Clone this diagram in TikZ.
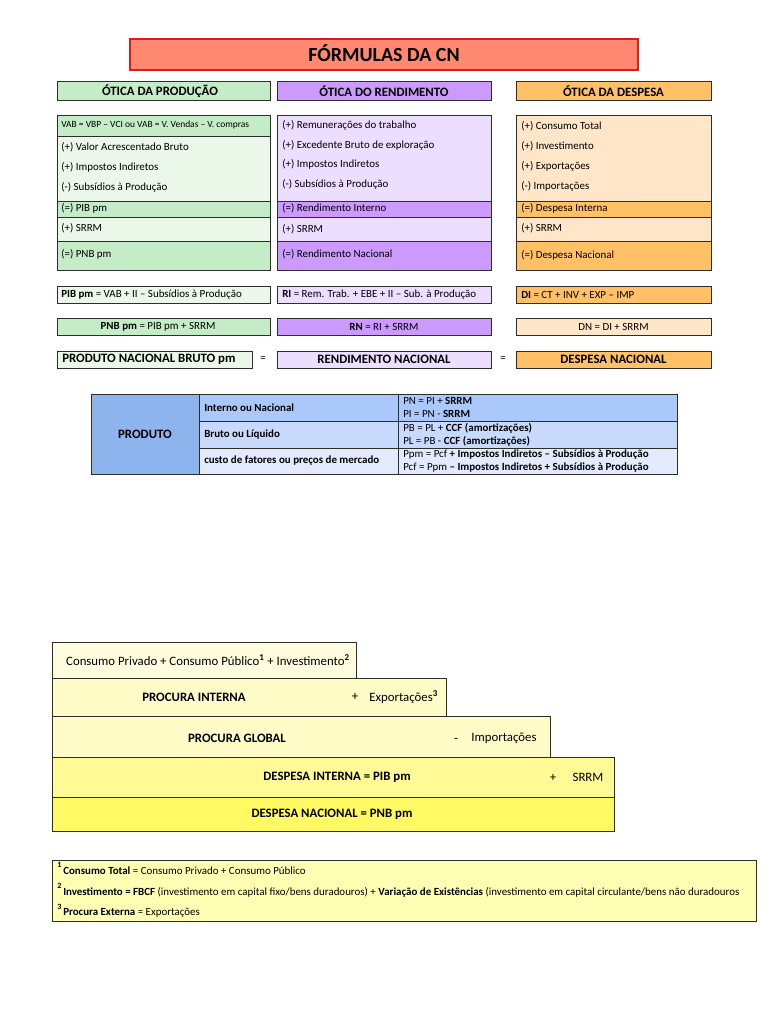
\documentclass[tikz,border=0pt]{standalone}
\usepackage{fontspec}
\setmainfont{Carlito}
\usepackage{xcolor}
\usetikzlibrary{positioning}

\definecolor{titleFill}{RGB}{255,137,112}
\definecolor{titleEdge}{RGB}{214,30,30}
\definecolor{prodDark}{RGB}{196,236,199}
\definecolor{prodLight}{RGB}{234,247,233}
\definecolor{rendDark}{RGB}{204,153,255}
\definecolor{rendLight}{RGB}{236,222,255}
\definecolor{despDark}{RGB}{255,192,102}
\definecolor{despLight}{RGB}{255,230,200}
\definecolor{tabHead}{RGB}{142,180,237}
\definecolor{tabOne}{RGB}{170,200,250}
\definecolor{tabTwo}{RGB}{200,218,252}
\definecolor{tabThree}{RGB}{226,234,252}
\definecolor{pyrPale}{RGB}{255,253,222}
\definecolor{pyrCream}{RGB}{255,252,200}
\definecolor{pyrYellow}{RGB}{255,250,150}
\definecolor{pyrStrong}{RGB}{255,250,100}
\definecolor{noteFill}{RGB}{255,255,180}

\begin{document}
\begin{tikzpicture}[x=0.75pt,y=0.75pt,yscale=-1,xscale=1,
  cell/.style={draw={rgb,255:red,45;green,45;blue,45},line width=0.75pt},
  txt/.style={anchor=west,inner sep=0pt,font=\fontsize{8.2}{9.5}\selectfont},
  ctxt/.style={inner sep=0pt,font=\fontsize{8.2}{9.5}\selectfont},
  vabtxt/.style={anchor=west,inner sep=0pt,font=\fontsize{7.1}{8}\selectfont},
  head/.style={inner sep=0pt,font=\fontsize{9.6}{11}\selectfont\bfseries},
  tabtxt/.style={anchor=west,inner sep=0pt,font=\fontsize{8.2}{9.7}\selectfont,align=left},
  pyr/.style={inner sep=0pt,font=\fontsize{9.6}{11}\selectfont},
  note/.style={anchor=west,inner sep=0pt,font=\fontsize{8.2}{9.5}\selectfont}
]
%uncomment if require: \path (0,1024); %page of 768 by 1024
\fill[white] (0,0) rectangle (768,1024);
\useasboundingbox (0,0) rectangle (768,1024);

%Shape: Rectangle [title]
\draw [draw=titleEdge,fill=titleFill,line width=1.2pt] (130,39) rectangle (638,70);
% Text Node
\node [inner sep=0pt,font=\fontsize{15}{17}\selectfont\bfseries] (titulo) at (384,53) {FÓRMULAS DA CN};

%Shape: Rectangle [headers]
\draw [cell,fill=prodDark] (57,82) rectangle (270,100);
\draw [cell,fill=rendDark] (277,82) rectangle (491,100);
\draw [cell,fill=despDark] (516,82) rectangle (711,100);
% Text Node
\node [head] (hprod) at (160,91) {ÓTICA DA PRODUÇÃO};
\node [head] (hrend) at (384,91) {ÓTICA DO RENDIMENTO};
\node [head] (hdesp) at (613.5,91) {ÓTICA DA DESPESA};

%Shape: Rectangle [producao]
\draw [cell,fill=prodDark] (57,115) rectangle (270,136);
\draw [cell,fill=prodLight] (57,136) rectangle (270,201);
\draw [cell,fill=prodDark] (57,201) rectangle (270,217);
\draw [cell,fill=prodLight] (57,217) rectangle (270,241);
\draw [cell,fill=prodDark] (57,241) rectangle (270,270);
% Text Node
\node [vabtxt] (vab) at (61,125) {VAB = VBP – VCI ou VAB = V. Vendas – V. compras};
\node [txt] (pvab) at (61,147) {(+) Valor Acrescentado Bruto};
\node [txt] (pii) at (61,167) {(+) Impostos Indiretos};
\node [txt] (psub) at (61,187) {(-) Subsídios à Produção};
\node [txt] (ppib) at (61,208) {(=) PIB pm};
\node [txt] (psrrm) at (61,228) {(+) SRRM};
\node [txt] (ppnb) at (61,254) {(=) PNB pm};

%Shape: Rectangle [rendimento]
\draw [cell,fill=rendLight] (277,115) rectangle (491,201);
\draw [cell,fill=rendDark] (277,201) rectangle (491,217);
\draw [cell,fill=rendLight] (277,217) rectangle (491,241);
\draw [cell,fill=rendDark] (277,241) rectangle (491,270);
% Text Node
\node [txt] (rrem) at (282,125) {(+) Remunerações do trabalho};
\node [txt] (rebe) at (282,145) {(+) Excedente Bruto de exploração};
\node [txt] (rii) at (282,164) {(+) Impostos Indiretos};
\node [txt] (rsub) at (282,184) {(-) Subsídios à Produção};
\node [txt] (rint) at (282,208) {(=) Rendimento Interno};
\node [txt] (rsrrm) at (282,229) {(+) SRRM};
\node [txt] (rnac) at (282,254) {(=) Rendimento Nacional};

%Shape: Rectangle [despesa]
\draw [cell,fill=despLight] (516,115) rectangle (711,201);
\draw [cell,fill=despDark] (516,201) rectangle (711,217);
\draw [cell,fill=despLight] (516,217) rectangle (711,241);
\draw [cell,fill=despDark] (516,241) rectangle (711,270);
% Text Node
\node [txt] (dct) at (521,126) {(+) Consumo Total};
\node [txt] (dinv) at (521,146) {(+) Investimento};
\node [txt] (dexp) at (521,166) {(+) Exportações};
\node [txt] (dimp) at (521,186) {(-) Importações};
\node [txt] (dint) at (521,208) {(=) Despesa Interna};
\node [txt] (dsrrm) at (521,228) {(+) SRRM};
\node [txt] (dnac) at (521,255) {(=) Despesa Nacional};

%Shape: Rectangle [formulas]
\draw [cell,fill=prodLight] (57,286) rectangle (270,303);
\draw [cell,fill=rendLight] (277,286) rectangle (491,303);
\draw [cell,fill=despDark] (516,286) rectangle (711,303);
\draw [cell,fill=prodDark] (57,318) rectangle (270,335);
\draw [cell,fill=rendDark] (277,318) rectangle (491,335);
\draw [cell,fill=despLight] (516,318) rectangle (711,335);
% Text Node
\node [txt] (fpib) at (61,294.5) {\textbf{PIB pm} = VAB + II – Subsídios à Produção};
\node [txt] (fri) at (282,294.5) {\textbf{RI} = Rem. Trab. + EBE + II – Sub. à Produção};
\node [txt] (fdi) at (521,294.5) {\textbf{DI} = CT + INV + EXP – IMP};
\node [ctxt] (fpnb) at (158,326.5) {\textbf{PNB pm} = PIB pm + SRRM};
\node [ctxt] (frn) at (384,326.5) {\textbf{RN} = RI + SRRM};
\node [ctxt] (fdn) at (613.5,326.5) {DN = DI + SRRM};

%Shape: Rectangle [igualdade]
\draw [cell,fill=prodLight] (57,351) rectangle (252,368);
\draw [cell,fill=rendLight] (277,351) rectangle (491,368);
\draw [cell,fill=despDark] (516,351) rectangle (711,368);
% Text Node
\node [head,anchor=west] (pnbtot) at (62,359.5) {PRODUTO NACIONAL BRUTO pm};
\node [ctxt] (eqa) at (263,359.5) {=};
\node [head] (rntot) at (384,359.5) {RENDIMENTO NACIONAL};
\node [ctxt] (eqb) at (503,359.5) {=};
\node [head] (dntot) at (613.5,359.5) {DESPESA NACIONAL};

%Shape: Rectangle [tabela produto]
\draw [cell,fill=tabHead] (91,394) rectangle (199,474);
\draw [cell,fill=tabOne] (199,394) rectangle (398,421);
\draw [cell,fill=tabOne] (398,394) rectangle (677,421);
\draw [cell,fill=tabTwo] (199,421) rectangle (398,448);
\draw [cell,fill=tabTwo] (398,421) rectangle (677,448);
\draw [cell,fill=tabThree] (199,448) rectangle (398,474);
\draw [cell,fill=tabThree] (398,448) rectangle (677,474);
% Text Node
\node [head] (produto) at (145,434) {PRODUTO};
\node [tabtxt,font=\fontsize{8.2}{9.7}\selectfont\bfseries] (tint) at (204,407.5) {Interno ou Nacional};
\node [tabtxt,font=\fontsize{8.2}{9.7}\selectfont\bfseries] (tbru) at (204,434.5) {Bruto ou Líquido};
\node [tabtxt,font=\fontsize{8.2}{9.7}\selectfont\bfseries] (tcus) at (204,461) {custo de fatores ou preços de mercado};
\node [tabtxt] (fint) at (403,407.5) {PN = PI + \textbf{SRRM}\\PI = PN - \textbf{SRRM}};
\node [tabtxt] (fbru) at (403,434.5) {PB = PL + \textbf{CCF (amortizações)}\\PL = PB - \textbf{CCF (amortizações)}};
\node [tabtxt] (fcus) at (403,461) {Ppm = Pcf \textbf{+ Impostos Indiretos – Subsídios à Produção}\\Pcf = Ppm \textbf{– Impostos Indiretos + Subsídios à Produção}};

%Shape: Rectangle [escada da despesa]
\draw [cell,fill=pyrPale] (52,642) rectangle (356,678);
\draw [cell,fill=pyrCream] (52,678) rectangle (446,716);
\draw [cell,fill=pyrCream] (52,716) rectangle (550,757);
\draw [cell,fill=pyrYellow] (52,757) rectangle (614,797);
\draw [cell,fill=pyrStrong] (52,797) rectangle (614,831);
% Text Node
\node [pyr] (consumo) at (208,660) {Consumo Privado + Consumo Público\textsuperscript{\textbf{1}} + Investimento\textsuperscript{\textbf{2}}};
\node [pyr,font=\fontsize{9.6}{11}\selectfont\bfseries] (procint) at (194,697) {PROCURA INTERNA};
\node [pyr] (mais) at (355,697) {+};
\node [pyr,anchor=west,right=8pt of mais] (export) {Exportações\textsuperscript{\textbf{3}}};
\node [pyr,font=\fontsize{9.6}{11}\selectfont\bfseries] (procglo) at (237,738) {PROCURA GLOBAL};
\node [pyr] (menos) at (456,740) {-};
\node [pyr] (import) at (504,738) {Importações};
\node [pyr,font=\fontsize{9.6}{11}\selectfont\bfseries] (despint) at (337,777) {DESPESA INTERNA = PIB pm};
\node [pyr] (maisb) at (553,778) {+};
\node [pyr] (srrm) at (588,777) {SRRM};
\node [pyr,font=\fontsize{9.6}{11}\selectfont\bfseries] (despnac) at (332,814) {DESPESA NACIONAL = PNB pm};

%Shape: Rectangle [notas]
\draw [cell,fill=noteFill] (52,860) rectangle (756,921);
% Text Node
\node [note,font=\fontsize{6}{7}\selectfont\bfseries] (numa) at (57,865) {1};
\node [note] (notaa) at (63,871) {\textbf{Consumo Total} = Consumo Privado + Consumo Público};
\node [note,font=\fontsize{6}{7}\selectfont\bfseries] (numb) at (57,886) {2};
\node [note] (notab) at (63,892) {\textbf{Investimento = FBCF} (investimento em capital fixo/bens duradouros) + \textbf{Variação de Existências} (investimento em capital circulante/bens não duradouros};
\node [note,font=\fontsize{6}{7}\selectfont\bfseries] (numc) at (57,907) {3};
\node [note] (notac) at (63,913) {\textbf{Procura Externa} = Exportações};

\end{tikzpicture}
\end{document}
